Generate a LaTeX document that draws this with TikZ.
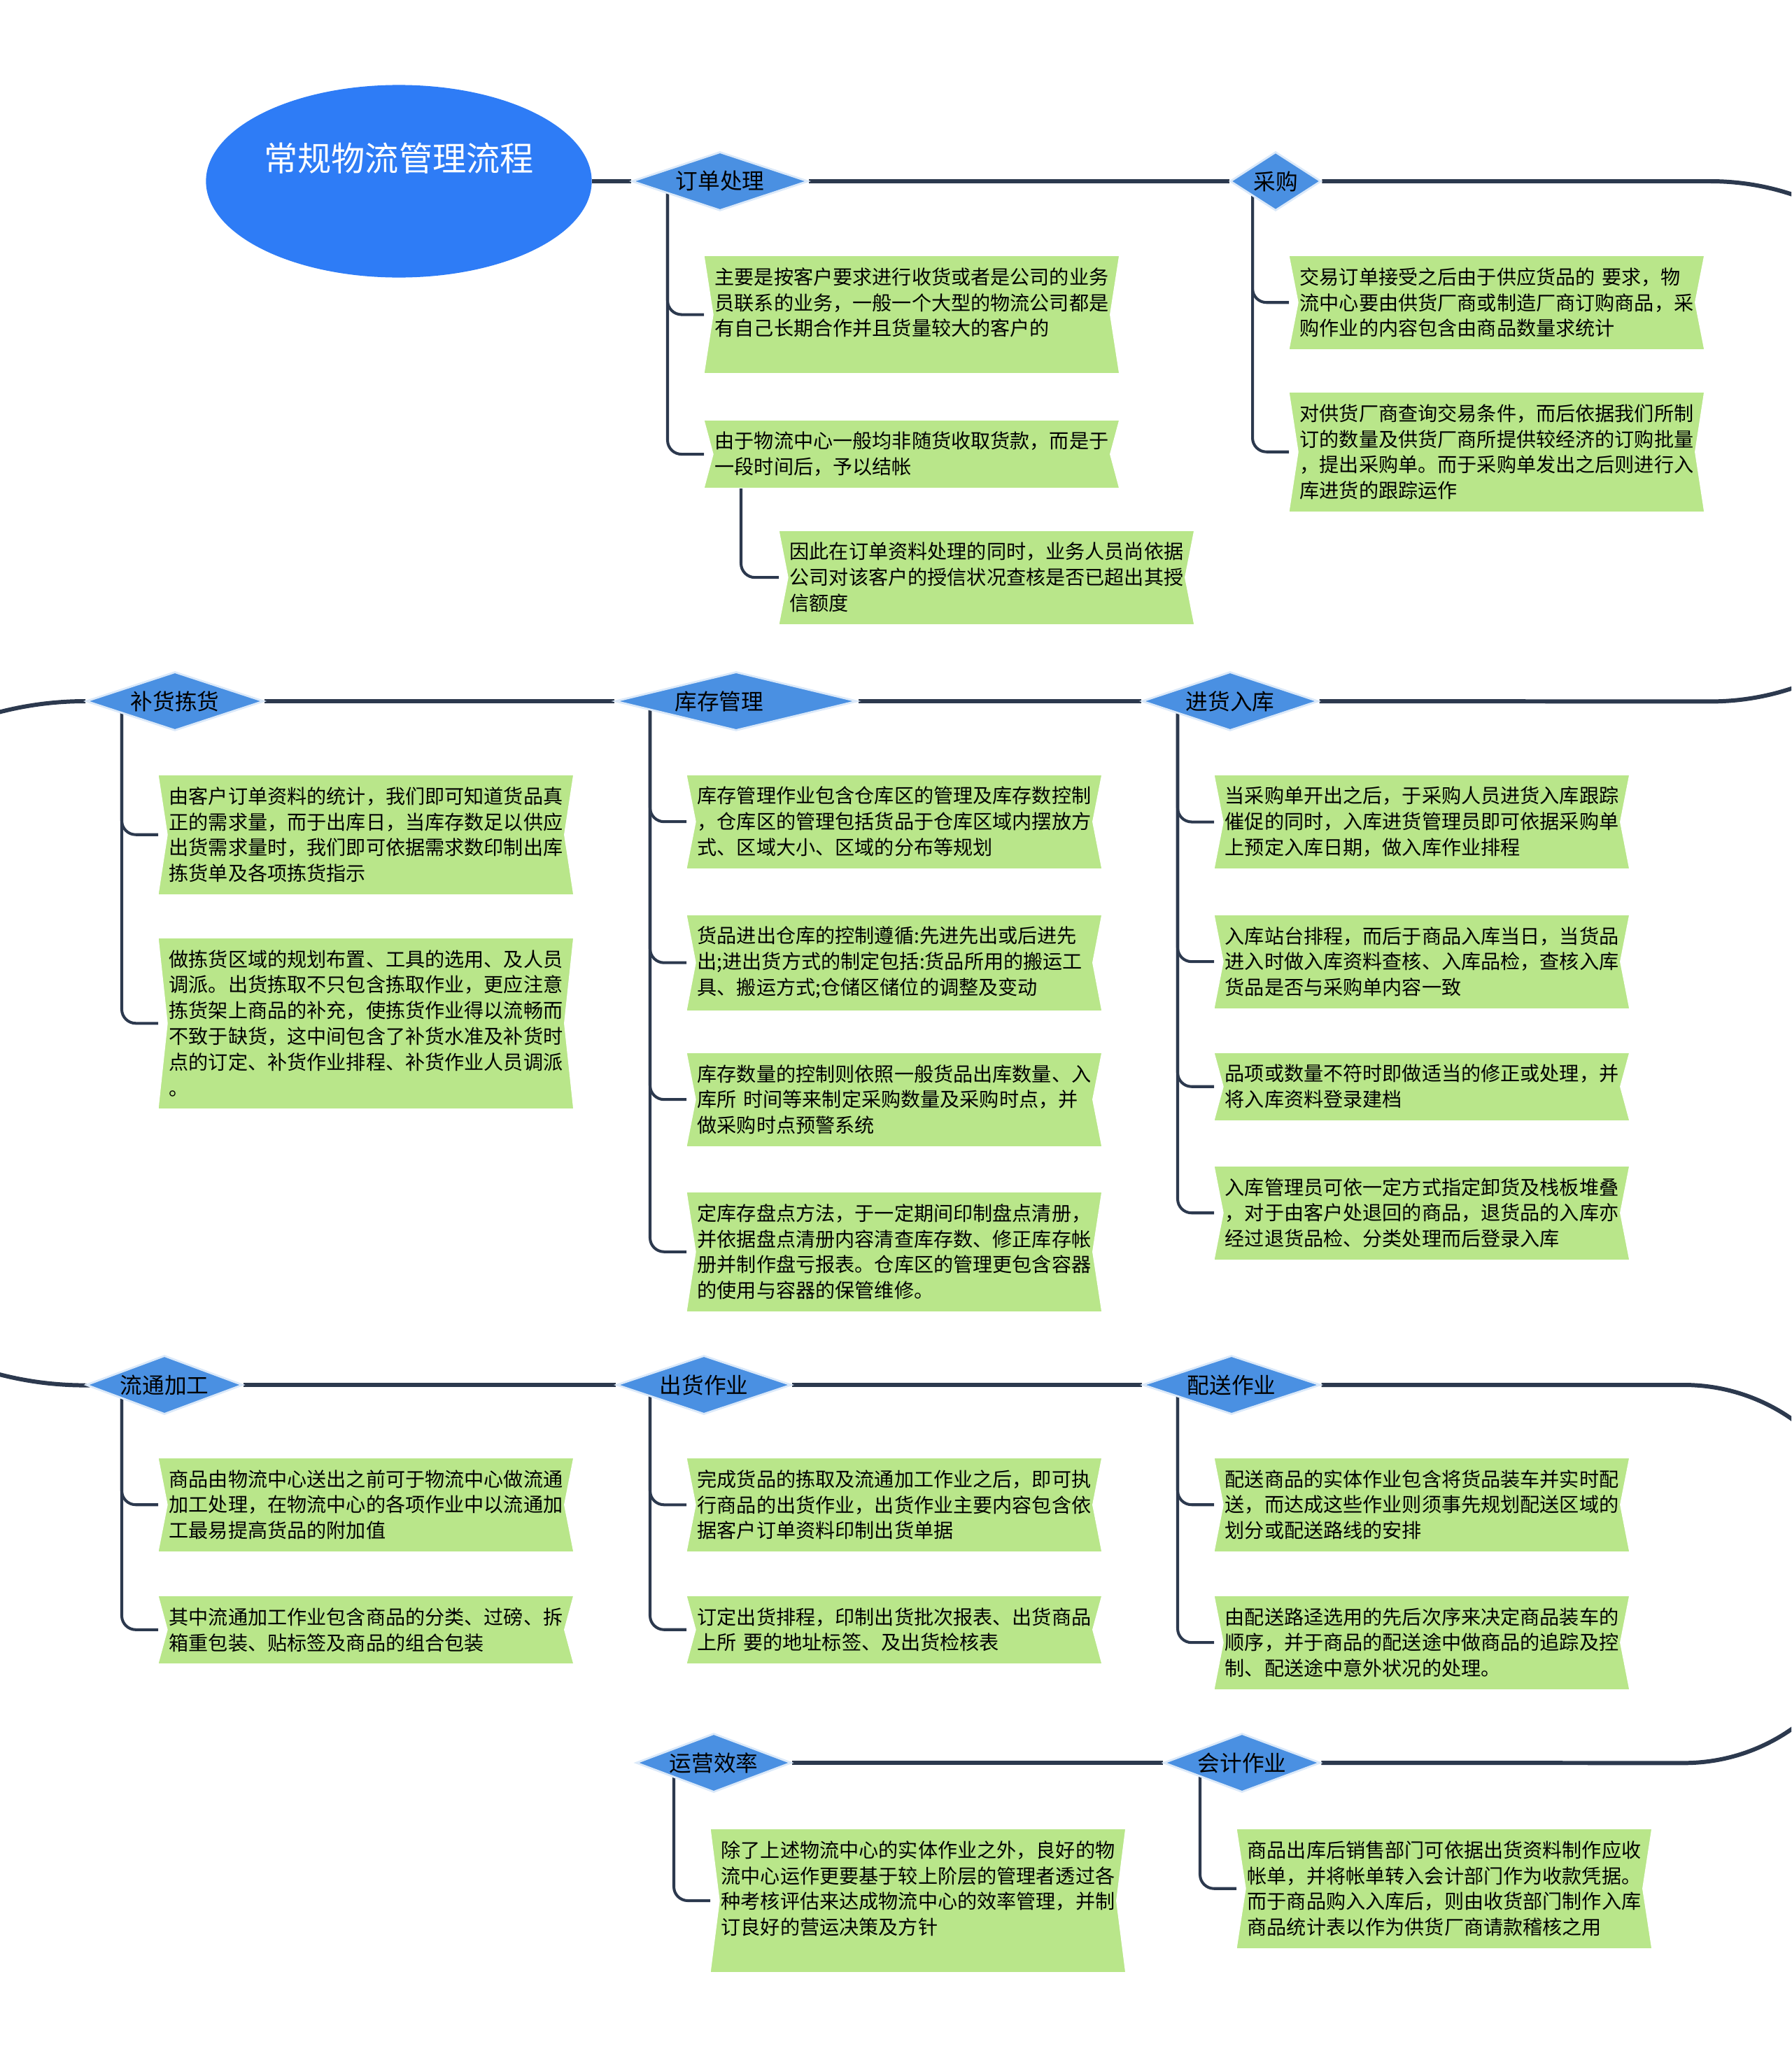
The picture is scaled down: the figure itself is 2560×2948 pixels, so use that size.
\documentclass[tikz,border=0pt]{standalone}
\usepackage{fontspec}
\setmainfont{Noto Sans CJK SC}
\usetikzlibrary{shapes.geometric,backgrounds}
\definecolor{navyline}{RGB}{44,57,78}
\definecolor{rootblue}{RGB}{46,124,246}
\definecolor{stageblue}{RGB}{74,144,226}
\definecolor{leafgreen}{RGB}{185,230,138}

\begin{document}
\begin{tikzpicture}[x=0.01cm, y=-0.01cm,
    flow/.style={draw=navyline, line width=1.7pt},
    branch/.style={draw=navyline, line width=1.15pt, rounded corners=0.2cm},
    root/.style={ellipse, fill=rootblue, text=white, inner sep=0pt,
      minimum width=5.51cm, minimum height=2.75cm,
      font=\fontsize{13.7pt}{16pt}\selectfont, text height=0.42cm, text depth=0.70cm},
    stage/.style={diamond, aspect=4, fill=stageblue, draw=white!80!stageblue, line width=0.8pt,
      inner sep=-0.2cm, minimum height=0.84cm, font=\fontsize{9pt}{10pt}\selectfont},
    leaf/.style={anchor=north west, fill=leafgreen, text width=5.62cm,
      inner xsep=0.15cm, inner ysep=0.165cm, align=left,
      font=\fontsize{8pt}{10.5pt}\selectfont,
      path picture={
        \fill[white] (path picture bounding box.north west) -- ([xshift=0.13cm]path picture bounding box.west) -- (path picture bounding box.south west) -- cycle;
        \fill[white] (path picture bounding box.north east) -- ([xshift=-0.13cm]path picture bounding box.east) -- (path picture bounding box.south east) -- cycle;}}
  ]
  \useasboundingbox (0,0) rectangle (2560,2948);

  % title
  \node[root] (root) at (570,259) {常规物流管理流程};

  % stages
  \node[stage, minimum width=2.52cm] (order) at (1029,259) {订单处理};
  \node[stage, minimum width=1.30cm] (purchase) at (1823,259) {采购};
  \node[stage, minimum width=2.54cm] (replenish) at (250,1002) {补货拣货};
  \node[stage, minimum width=3.46cm] (stock) at (1052,1002) {库存管理\hspace*{0.48cm}};
  \node[stage, minimum width=2.52cm] (receive) at (1758,1002) {进货入库};
  \node[stage, minimum width=2.24cm] (process) at (235,1979) {流通加工};
  \node[stage, minimum width=2.50cm] (ship) at (1006,1979) {出货作业};
  \node[stage, minimum width=2.54cm] (deliver) at (1760,1979) {配送作业};
  \node[stage, minimum width=2.22cm] (efficiency) at (1020,2519) {运营效率};
  \node[stage, minimum width=2.24cm] (account) at (1775,2519) {会计作业};

  \coordinate (turnA) at (2444,259);
  \coordinate (turnB) at (122,1002);
  \coordinate (turnC) at (2406,1979);

  % 订单处理
  \node[leaf] (order1) at (1006,365) {主要是按客户要求进行收货或者是公司的业务\\员联系的业务，一般一个大型的物流公司都是\\有自己长期合作并且货量较大的客户的\\\mbox{}};
  \node[leaf] (order2) at (1006,600) {由于物流中心一般均非随货收取货款，而是于\\一段时间后，予以结帐};
  \node[leaf] (order3) at (1113,758) {因此在订单资料处理的同时，业务人员尚依据\\公司对该客户的授信状况查核是否已超出其授\\信额度};

  % 采购
  \node[leaf] (purchase1) at (1842,365) {交易订单接受之后由于供应货品的 要求，物\\流中心要由供货厂商或制造厂商订购商品，采\\购作业的内容包含由商品数量求统计};
  \node[leaf] (purchase2) at (1842,560) {对供货厂商查询交易条件，而后依据我们所制\\订的数量及供货厂商所提供较经济的订购批量\\，提出采购单。而于采购单发出之后则进行入\\库进货的跟踪运作};

  % 补货拣货
  \node[leaf] (replenish1) at (226,1107) {由客户订单资料的统计，我们即可知道货品真\\正的需求量，而于出库日，当库存数足以供应\\出货需求量时，我们即可依据需求数印制出库\\拣货单及各项拣货指示};
  \node[leaf] (replenish2) at (226,1340) {做拣货区域的规划布置、工具的选用、及人员\\调派。出货拣取不只包含拣取作业，更应注意\\拣货架上商品的补充，使拣货作业得以流畅而\\不致于缺货，这中间包含了补货水准及补货时\\点的订定、补货作业排程、补货作业人员调派\\。};

  % 库存管理
  \node[leaf] (stock1) at (981,1107) {库存管理作业包含仓库区的管理及库存数控制\\，仓库区的管理包括货品于仓库区域内摆放方\\式、区域大小、区域的分布等规划};
  \node[leaf] (stock2) at (981,1307) {货品进出仓库的控制遵循:先进先出或后进先\\出;进出货方式的制定包括:货品所用的搬运工\\具、搬运方式;仓储区储位的调整及变动};
  \node[leaf] (stock3) at (981,1504) {库存数量的控制则依照一般货品出库数量、入\\库所 时间等来制定采购数量及采购时点，并\\做采购时点预警系统};
  \node[leaf] (stock4) at (981,1703) {定库存盘点方法，于一定期间印制盘点清册，\\并依据盘点清册内容清查库存数、修正库存帐\\册并制作盘亏报表。仓库区的管理更包含容器\\的使用与容器的保管维修。};

  % 进货入库
  \node[leaf] (receive1) at (1735,1107) {当采购单开出之后，于采购人员进货入库跟踪\\催促的同时，入库进货管理员即可依据采购单\\上预定入库日期，做入库作业排程};
  \node[leaf] (receive2) at (1735,1307) {入库站台排程，而后于商品入库当日，当货品\\进入时做入库资料查核、入库品检，查核入库\\货品是否与采购单内容一致};
  \node[leaf] (receive3) at (1735,1504) {品项或数量不符时即做适当的修正或处理，并\\将入库资料登录建档};
  \node[leaf] (receive4) at (1735,1666) {入库管理员可依一定方式指定卸货及栈板堆叠\\，对于由客户处退回的商品，退货品的入库亦\\ 经过退货品检、分类处理而后登录入库};

  % 流通加工
  \node[leaf] (process1) at (226,2083) {商品由物流中心送出之前可于物流中心做流通\\加工处理，在物流中心的各项作业中以流通加\\工最易提高货品的附加值};
  \node[leaf] (process2) at (226,2280) {其中流通加工作业包含商品的分类、过磅、拆\\箱重包装、贴标签及商品的组合包装};

  % 出货作业
  \node[leaf] (ship1) at (981,2083) {完成货品的拣取及流通加工作业之后，即可执\\行商品的出货作业，出货作业主要内容包含依\\据客户订单资料印制出货单据};
  \node[leaf] (ship2) at (981,2280) {订定出货排程，印制出货批次报表、出货商品\\上所 要的地址标签、及出货检核表};

  % 配送作业
  \node[leaf] (deliver1) at (1735,2083) {配送商品的实体作业包含将货品装车并实时配\\送，而达成这些作业则须事先规划配送区域的\\划分或配送路线的安排};
  \node[leaf] (deliver2) at (1735,2280) {由配送路迳选用的先后次序来决定商品装车的\\顺序，并于商品的配送途中做商品的追踪及控\\制、配送途中意外状况的处理。};

  % 运营效率, 会计作业
  \node[leaf] (efficiency1) at (1015,2613) {除了上述物流中心的实体作业之外，良好的物\\流中心运作更要基于较上阶层的管理者透过各\\种考核评估来达成物流中心的效率管理，并制\\订良好的营运决策及方针\\\mbox{}};
  \node[leaf] (account1) at (1767,2613) {商品出库后销售部门可依据出货资料制作应收\\帐单，并将帐单转入会计部门作为收款凭据。\\而于商品购入入库后，则由收货部门制作入库\\商品统计表以作为供货厂商请款稽核之用};

  \begin{pgfonlayer}{background}
    \begin{scope}
      \clip (0,0) rectangle (2560,2948);
      % main line
      \draw[flow] (root.east) -- (order.west);
      \draw[flow] (order.east) -- (purchase.west);
      \draw[flow] (purchase.east) -- (turnA) arc[start angle=90, end angle=-90, radius=3.715cm] -- (receive.east);
      \draw[flow] (receive.west) -- (stock.east);
      \draw[flow] (stock.west) -- (replenish.east);
      \draw[flow] (replenish.west) -- (turnB) arc[start angle=90, end angle=270, radius=4.885cm] -- (process.west);
      \draw[flow] (process.east) -- (ship.west);
      \draw[flow] (ship.east) -- (deliver.west);
      \draw[flow] (deliver.east) -- (turnC) arc[start angle=90, end angle=-90, radius=2.70cm] -- (account.east);
      \draw[flow] (account.west) -- (efficiency.east);

      % branches
      \foreach \s/\l in {order/order1, order/order2, purchase/purchase1, purchase/purchase2,
          replenish/replenish1, replenish/replenish2,
          stock/stock1, stock/stock2, stock/stock3, stock/stock4,
          receive/receive1, receive/receive2, receive/receive3, receive/receive4,
          process/process1, process/process2, ship/ship1, ship/ship2,
          deliver/deliver1, deliver/deliver2, efficiency/efficiency1, account/account1}
        \draw[branch] (\s.center -| \l.west) ++(-52,0) |- (\l.west);
      \draw[branch] (order2.south -| order3.west) ++(-54,0) |- (order3.west);
    \end{scope}
  \end{pgfonlayer}
\end{tikzpicture}
\end{document}
